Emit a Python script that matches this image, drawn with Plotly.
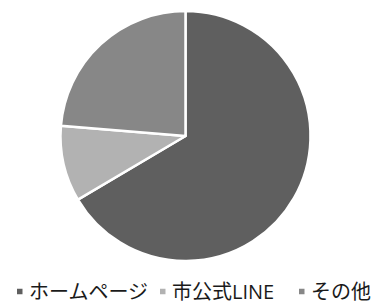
import plotly.graph_objects as go

labels = ["ホームページ", "市公式LINE", "その他"]
values = [66.5, 9.8, 23.7]
colors = ["#5f5f5f", "#b2b2b2", "#878787"]

W, H = 383, 304
fig = go.Figure(go.Pie(
    labels=labels, values=values, sort=False, direction="clockwise", rotation=0,
    marker=dict(colors=colors, line=dict(color="white", width=2.5)),
    textinfo="none", hoverinfo="none", showlegend=False,
    domain=dict(x=[0, 371 / W], y=[(H - 261) / H, (H - 11) / H]),
))

# custom legend layout (pixel positions of marker left edges)
marker_x = [17, 160, 299]
text_gap = 12
msize = 5.5
ycenter = 291.5
for lab, col, mx in zip(labels, colors, marker_x):
    fig.add_shape(type="rect", xref="paper", yref="paper",
                  x0=mx / W, x1=(mx + msize) / W,
                  y0=(H - ycenter - msize / 2) / H, y1=(H - ycenter + msize / 2) / H,
                  fillcolor=col, line=dict(width=0))
    fig.add_annotation(text=lab, x=(mx + text_gap - 1) / W, y=(H - ycenter) / H,
                       xref="paper", yref="paper", xanchor="left", yanchor="middle",
                       showarrow=False, borderpad=0,
                       font=dict(family="Open Sans, Noto Sans CJK JP", size=20, color="#1a1a1a"))

fig.update_layout(
    width=W, height=H, margin=dict(l=0, r=0, t=0, b=0),
    paper_bgcolor="white", plot_bgcolor="white",
)
fig.write_html("out.html", config={"displayModeBar": False},
               post_script="document.body.style.margin='0';")
